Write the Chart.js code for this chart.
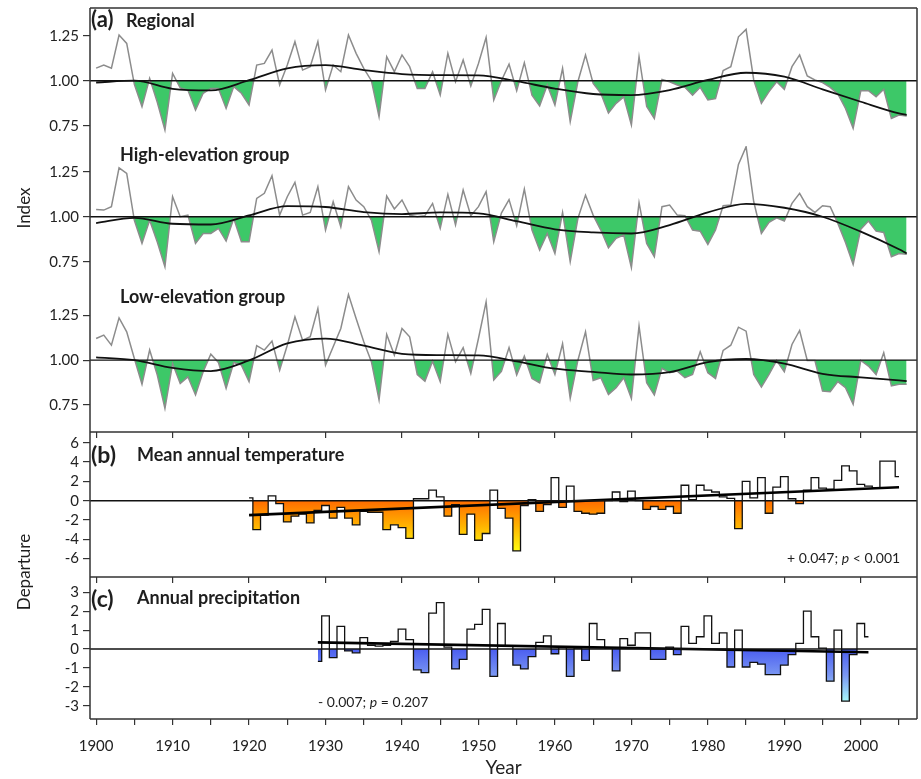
<!DOCTYPE html>
<html>
<head>
<meta charset="utf-8">
<title>Growth index, temperature and precipitation</title>
<script src="https://cdn.jsdelivr.net/npm/chart.js@4.4.1/dist/chart.umd.min.js"></script>
<style>
  body { margin: 0; background: #fff; }
  #wrap { position: relative; width: 921px; height: 779px; overflow: hidden; font-family: Lato, "Open Sans", sans-serif; color: #1e1e1e; }
  #wrap canvas { position: absolute; left: 0; top: 0; }
  .t { position: absolute; white-space: nowrap; line-height: 1; font-weight: 700; }
  .ax { position: absolute; width: 140px; height: 20px; line-height: 20px; text-align: center; font-size: 17px; transform: rotate(-90deg); }
  .note { position: absolute; white-space: nowrap; line-height: 1; font-size: 14px; }
</style>
</head>
<body>
<div id="wrap">
  <canvas id="cReg" width="921" height="779"></canvas>
  <canvas id="cHigh" width="921" height="779"></canvas>
  <canvas id="cLow" width="921" height="779"></canvas>
  <canvas id="cTemp" width="921" height="779"></canvas>
  <canvas id="cPrec" width="921" height="779"></canvas>

  <div class="t" style="left:91px;top:8px;font-size:22px">(a)</div>
  <div class="t" style="left:126px;top:11px;font-size:18px">Regional</div>
  <div class="t" style="left:120px;top:145px;font-size:18px">High-elevation group</div>
  <div class="t" style="left:120px;top:287px;font-size:18px">Low-elevation group</div>
  <div class="t" style="left:91px;top:443px;font-size:23px">(b)</div>
  <div class="t" style="left:137px;top:445px;font-size:18px">Mean annual temperature</div>
  <div class="t" style="left:91px;top:587px;font-size:23px">(c)</div>
  <div class="t" style="left:137px;top:588px;font-size:18px">Annual precipitation</div>
  <div class="note" style="left:787px;top:551px">+ 0.047; <i>p</i> &lt; 0.001</div>
  <div class="note" style="left:318px;top:695px">- 0.007; <i>p</i> = 0.207</div>
  <div class="ax" style="left:-46px;top:198px">Index</div>
  <div class="ax" style="left:-46px;top:562px">Departure</div>
</div>
<script>
// ring-width index, one value per year 1900-2006
const years = []
for (let y = 1900; y <= 2006; y++) years.push(y)

const regional = [
  1.07, 1.087, 1.069, 1.254, 1.207, 0.98, 0.856, 1.013, 0.88, 0.726,
  1.04, 0.96, 0.948, 0.837, 0.93, 0.957, 0.957, 0.846, 0.967, 0.93,
  0.865, 1.087, 1.096, 1.17, 0.976, 1.087, 1.217, 1.059, 1.078, 1.217,
  0.948, 1.087, 1.05, 1.254, 1.152, 1.069, 1.0, 0.8, 1.133, 1.05,
  1.143, 1.078, 0.957, 0.957, 1.05, 0.92, 1.152, 0.994, 1.115, 0.97,
  1.096, 1.24, 0.893, 1.0, 1.092, 0.944, 1.1, 0.92, 0.86, 0.976,
  0.865, 1.069, 0.772, 0.994, 1.143, 0.985, 0.93, 0.82, 0.874, 0.91,
  0.754, 1.133, 0.856, 0.79, 1.007, 0.994, 0.976, 0.963, 0.92, 0.963,
  0.893, 0.9, 1.056, 1.078, 1.244, 1.285, 1.004, 0.874, 0.939, 0.994,
  0.952, 1.078, 1.143, 1.026, 1.004, 0.989, 0.963, 0.926, 0.846, 0.735,
  0.944, 0.944, 0.911, 0.952, 0.79, 0.809, 0.804
]
const high = [
  1.04, 1.037, 1.056, 1.272, 1.241, 0.98, 0.852, 0.981, 0.86, 0.722,
  1.111, 1.0, 1.009, 0.852, 0.907, 0.907, 0.935, 0.865, 0.99, 0.861,
  0.861, 1.102, 1.13, 1.228, 1.009, 1.111, 1.191, 1.009, 1.024, 1.167,
  0.926, 1.083, 0.944, 1.167, 1.093, 1.056, 0.981, 0.806, 1.115, 1.043,
  1.093, 1.009, 1.0, 1.006, 1.074, 0.935, 1.124, 0.954, 1.148, 1.006,
  1.056, 1.139, 0.861, 1.02, 1.095, 0.95, 1.154, 0.926, 0.815, 0.907,
  0.796, 1.024, 0.75, 0.99, 1.12, 1.009, 0.926, 0.828, 0.88, 0.898,
  0.717, 1.078, 0.852, 0.778, 1.056, 1.065, 1.009, 1.006, 0.926, 0.92,
  0.846, 0.926, 1.061, 1.065, 1.291, 1.389, 1.083, 0.907, 0.969, 0.994,
  0.976, 1.074, 1.13, 1.056, 1.024, 1.061, 1.056, 0.963, 0.857, 0.735,
  0.931, 0.976, 0.92, 0.913, 0.778, 0.796, 0.791
]
const low = [
  1.12, 1.139, 1.083, 1.235, 1.157, 1.009, 0.865, 1.056, 0.917, 0.731,
  0.981, 0.87, 0.907, 0.806, 0.935, 1.033, 0.987, 0.843, 0.987, 0.972,
  0.88, 1.08, 1.056, 1.106, 0.944, 1.083, 1.241, 1.111, 1.13, 1.287,
  0.972, 1.074, 1.176, 1.365, 1.231, 1.102, 0.991, 0.778, 1.143, 1.028,
  1.176, 1.13, 0.92, 0.883, 0.994, 0.88, 1.143, 0.991, 1.069, 0.926,
  1.12, 1.324, 0.889, 0.937, 1.07, 0.918, 1.022, 0.898, 0.874, 1.031,
  0.92, 1.091, 0.787, 0.998, 1.157, 0.887, 0.902, 0.809, 0.846, 0.902,
  0.787, 1.189, 0.874, 0.806, 0.954, 0.93, 0.939, 0.902, 0.92, 1.046,
  0.93, 0.898, 1.054, 1.083, 1.183, 1.161, 0.92, 0.85, 0.92, 0.998,
  0.935, 1.087, 1.165, 0.998, 0.998, 0.828, 0.824, 0.88, 0.846, 0.754,
  0.998, 0.967, 0.92, 1.041, 0.856, 0.865, 0.865
]

// smoothed curves, read every 5 years
const smoothYears = [1900, 1905, 1910, 1915, 1920, 1925, 1930, 1935, 1940, 1945, 1950,
  1955, 1960, 1965, 1970, 1975, 1980, 1985, 1990, 1995, 2000, 2005, 2006]
const regionalSmooth = [0.99, 1.0, 0.955, 0.946, 1.003, 1.069, 1.087, 1.059, 1.037, 1.031, 1.03,
  0.997, 0.956, 0.926, 0.92, 0.948, 1.004, 1.044, 1.022, 0.952, 0.883, 0.818, 0.81]
const highSmooth = [0.965, 0.994, 0.961, 0.957, 1.007, 1.059, 1.054, 1.026, 1.015, 1.024, 1.019,
  0.975, 0.93, 0.913, 0.907, 0.954, 1.024, 1.072, 1.05, 1.0, 0.917, 0.819, 0.796]
const lowSmooth = [1.015, 1.0, 0.957, 0.939, 0.998, 1.093, 1.12, 1.08, 1.035, 1.028, 1.026,
  0.993, 0.952, 0.935, 0.92, 0.933, 0.989, 1.006, 0.981, 0.924, 0.904, 0.887, 0.883]

// temperature departures 1920-2005
const tempYears = []
for (let y = 1920; y <= 2005; y++) tempYears.push(y)
const temp = [
  0.3, -3.0, -1.5, 0.5, -0.3, -2.2, -1.6, -1.4, -2.3, -1.0,
  -0.5, -1.8, -0.7, -1.8, -2.5, -1.1, -1.2, -1.2, -3.0, -2.5,
  -2.8, -3.9, 0.2, 0.2, 1.1, 0.4, -1.6, -0.4, -3.5, -1.4,
  -4.1, -3.4, 1.1, -0.8, -1.8, -5.2, -0.5, 0.1, -1.1, -0.4,
  2.4, -0.7, 1.5, -1.1, -1.3, -1.4, -1.3, 0.0, 0.9, -0.1,
  1.0, 0.0, -0.9, -0.6, -0.9, -0.6, -1.3, 1.6, 0.1, 1.6,
  1.1, 0.9, 0.4, 0.25, -2.9, 2.0, 0.3, 2.4, -1.3, 1.4,
  2.5, 0.2, -0.3, 1.1, 2.4, 1.3, 1.2, 2.1, 3.6, 3.1,
  1.7, 1.5, 1.3, 4.1, 4.1, 2.5
]
const tempTrendYears = [1920, 2005]
const tempTrend = [-1.5, 1.4]

// precipitation departures 1929-2001
const precYears = []
for (let y = 1929; y <= 2001; y++) precYears.push(y)
const prec = [
  -0.65, 1.75, -0.45, 1.2, -0.1, -0.2, 0.6, 0.2, 0.15, 0.2, 0.4,
  1.05, 0.5, -1.1, -1.25, 1.9, 2.45, 0.1, -1.05, -0.55, 1.05,
  1.3, 2.1, -1.45, 1.35, 0.15, -0.85, -1.05, -0.4, 0.35, 0.7,
  -0.25, 0.1, -1.45, 0.05, -0.6, 1.35, 0.5, 0.05, -1.15, 0.55,
  0.2, 0.85, 0.85, -0.55, -0.55, 0.1, -0.3, 1.2, 0.3, 0.65,
  1.75, 0.3, 0.85, -0.95, 1.0, -0.95, -0.7, -0.8, -1.35, -1.35,
  -0.85, -0.3, 0.3, 2.0, 0.65, 0.05, -1.7, 1.0, -2.75, -0.3,
  1.35, 0.65
]
const precTrendYears = [1929, 2001]
const precTrend = [0.35, -0.17]

// tick values
const indexTicks = [0.75, 1.0, 1.25]
const tempTicks = [-6, -4, -2, 0, 2, 4, 6]
const precTicks = [-3, -2, -1, 0, 1, 2, 3]
const decadeTicks = [1900, 1910, 1920, 1930, 1940, 1950, 1960, 1970, 1980, 1990, 2000]
const fiveYearTicks = [1900, 1905, 1910, 1915, 1920, 1925, 1930, 1935, 1940, 1945, 1950,
  1955, 1960, 1965, 1970, 1975, 1980, 1985, 1990, 1995, 2000, 2005]

const X_MIN = 1899.2
const X_MAX = 2007.35
const GREEN = '#3dc868'
const FONT = 'Lato'

function pts(xs, ys) {
    return xs.map((x, i) => ({ x: x, y: ys[i] }))
}

function gradient(chart, bottomValue, stops) {
    const area = chart.chartArea
    if (!area) return 'rgba(0,0,0,0)'
    const y = chart.scales.y
    const g = chart.ctx.createLinearGradient(0, y.getPixelForValue(0), 0, y.getPixelForValue(bottomValue))
    stops.forEach((c, i) => g.addColorStop(i / (stops.length - 1), c))
    return g
}

const framePlugin = {
    id: 'frame',
    afterDraw(chart, args, opts) {
        const { ctx, chartArea: a } = chart
        const s = opts.sides || ''
        ctx.save()
        ctx.strokeStyle = '#333'
        ctx.lineWidth = 1.5
        ctx.beginPath()
        if (s.includes('t')) { ctx.moveTo(a.left, a.top); ctx.lineTo(a.right, a.top) }
        if (s.includes('r')) { ctx.moveTo(a.right, a.top); ctx.lineTo(a.right, a.bottom) }
        if (s.includes('b')) { ctx.moveTo(a.left, a.bottom); ctx.lineTo(a.right, a.bottom) }
        if (s.includes('l')) { ctx.moveTo(a.left, a.top); ctx.lineTo(a.left, a.bottom) }
        ctx.stroke()
        ctx.restore()
    }
}

const refPlugin = {
    id: 'refLine',
    afterDatasetsDraw(chart, args, opts) {
        const { ctx, chartArea: a } = chart
        const y = chart.scales.y.getPixelForValue(opts.value)
        ctx.save()
        ctx.strokeStyle = '#111'
        ctx.lineWidth = 1.4
        ctx.beginPath()
        ctx.moveTo(a.left, y)
        ctx.lineTo(a.right, y)
        ctx.stroke()
        ctx.restore()
    }
}

function yScale(min, max, ticks, fmt) {
    return {
        min: min,
        max: max,
        afterBuildTicks: s => { s.ticks = ticks.map(v => ({ value: v })) },
        afterFit: s => { s.width = 90; s.paddingTop = 0; s.paddingBottom = 0 },
        ticks: { font: { family: FONT, size: 15 }, color: '#222', padding: 4, callback: fmt },
        grid: { drawOnChartArea: false, tickLength: 7, color: '#333', lineWidth: 1.2 },
        border: { display: false }
    }
}

function xScale(mode) {
    if (mode === 'none') return { type: 'linear', min: X_MIN, max: X_MAX, display: false }
    const sc = {
        type: 'linear',
        min: X_MIN,
        max: X_MAX,
        grid: { drawOnChartArea: false, tickLength: 6, color: '#333', lineWidth: 1.2 },
        border: { display: false }
    }
    if (mode === 'ticks') {
        sc.afterBuildTicks = s => { s.ticks = decadeTicks.map(v => ({ value: v })) }
        sc.afterFit = s => { s.height = 0; s.paddingLeft = 0; s.paddingRight = 0 }
        sc.ticks = { display: false }
    } else {
        sc.afterBuildTicks = s => { s.ticks = fiveYearTicks.map(v => ({ value: v })) }
        sc.afterFit = s => { s.height = 60; s.paddingLeft = 0; s.paddingRight = 0 }
        sc.ticks = {
            font: { family: FONT, size: 15 }, color: '#222', padding: 12,
            autoSkip: false, maxRotation: 0,
            callback: v => (v % 10 === 0 ? String(v) : '')
        }
        sc.title = { display: true, text: 'Year', font: { family: FONT, size: 19 }, color: '#222', padding: { top: 0, bottom: 0 } }
    }
    return sc
}

function makeChart(id, c) {
    const padBottom = c.xMode === 'full' ? 779 - 60 - c.bottom : 779 - c.bottom
    return new Chart(document.getElementById(id), {
        type: 'line',
        data: { datasets: c.datasets },
        options: {
            responsive: false,
            animation: false,
            devicePixelRatio: 1,
            events: [],
            layout: { padding: { top: c.top, bottom: padBottom, left: 0, right: 4 } },
            plugins: {
                legend: { display: false },
                tooltip: { enabled: false },
                frame: { sides: c.sides },
                refLine: { value: c.ref }
            },
            scales: { x: xScale(c.xMode), y: yScale(c.yMin, c.yMax, c.yTicks, c.fmt) }
        },
        plugins: [framePlugin, refPlugin]
    })
}

function indexSets(vals, smooth) {
    return [
        {
            data: pts(smoothYears, smooth),
            borderColor: '#111', borderWidth: 1.8, pointRadius: 0,
            cubicInterpolationMode: 'monotone', fill: false
        },
        {
            data: pts(years, vals),
            borderColor: '#8c8c8c', borderWidth: 1.5, pointRadius: 0, tension: 0,
            backgroundColor: GREEN,
            fill: { target: { value: 1 }, above: 'rgba(0,0,0,0)', below: GREEN }
        }
    ]
}

const fmtIndex = v => v.toFixed(2)
const fmtInt = v => String(v)

makeChart('cReg', { top: 8, bottom: 146, yMin: 0.637, yMax: 1.404, yTicks: indexTicks, fmt: fmtIndex,
    xMode: 'none', sides: 'tlr', ref: 1, datasets: indexSets(regional, regionalSmooth) })
makeChart('cHigh', { top: 146, bottom: 290, yMin: 0.593, yMax: 1.393, yTicks: indexTicks, fmt: fmtIndex,
    xMode: 'none', sides: 'lr', ref: 1, datasets: indexSets(high, highSmooth) })
makeChart('cLow', { top: 290, bottom: 432, yMin: 0.6, yMax: 1.39, yTicks: indexTicks, fmt: fmtIndex,
    xMode: 'ticks', sides: 'lrb', ref: 1, datasets: indexSets(low, lowSmooth) })

makeChart('cTemp', { top: 432, bottom: 577, yMin: -7.91, yMax: 7.12, yTicks: tempTicks, fmt: fmtInt,
    xMode: 'ticks', sides: 'lrb', ref: 0, datasets: [
        { data: pts(tempTrendYears, tempTrend), borderColor: '#000', borderWidth: 2.6, pointRadius: 0, fill: false },
        {
            data: pts(tempYears, temp), stepped: 'middle',
            borderColor: '#111', borderWidth: 1.3, pointRadius: 0,
            backgroundColor: ctx => gradient(ctx.chart, -5.3, ['#ff6c00', '#ffb400', '#ffff10']),
            fill: { target: 'origin', above: 'rgba(0,0,0,0)' }
        }
    ] })

makeChart('cPrec', { top: 577, bottom: 719, yMin: -3.7, yMax: 3.81, yTicks: precTicks, fmt: fmtInt,
    xMode: 'full', sides: 'lrb', ref: 0, datasets: [
        { data: pts(precTrendYears, precTrend), borderColor: '#000', borderWidth: 2.6, pointRadius: 0, fill: false },
        {
            data: pts(precYears, prec), stepped: 'middle',
            borderColor: '#111', borderWidth: 1.3, pointRadius: 0,
            backgroundColor: ctx => gradient(ctx.chart, -2.8, ['#4b5ef0', '#7b98f3', '#a8fafa']),
            fill: { target: 'origin', above: 'rgba(0,0,0,0)' }
        }
    ] })
</script>
</body>
</html>
